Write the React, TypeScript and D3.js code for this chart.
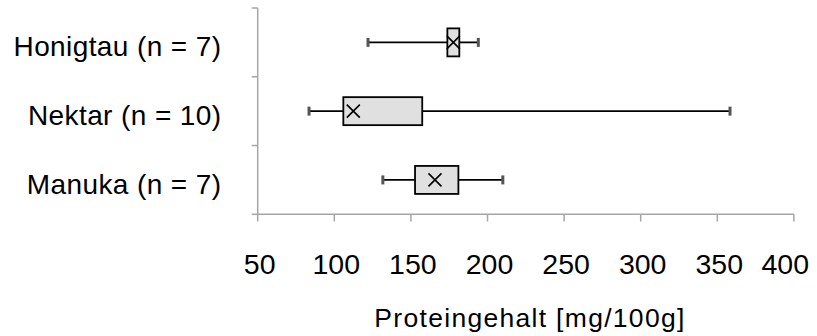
import React from "react";
import * as d3 from "d3";

const categories = ["Honigtau (n = 7)", "Nektar (n = 10)", "Manuka (n = 7)"];
const whiskerLow = [122, 83.5, 131.7];
const q1 = [173.8, 105.9, 152.7];
const q3 = [181.6, 157.4, 181];
const whiskerHigh = [194, 358.3, 210];
const means = [177.7, 112.4, 165.7];
const xTicks = [50, 100, 150, 200, 250, 300, 350, 400];
const xTitle = "Proteingehalt [mg/100g]";

const W = 817;
const H = 336;
const FONT = "'Liberation Sans', Arial, sans-serif";

export default function App() {
  const x = d3.scaleLinear().domain([50, 400]).range([257.7, 793.9]);
  const y = d3.scaleBand<string>().domain(categories).range([8, 214.3]).padding(0);
  const axisColor = "#a6a6a6";
  const boxH = 28;
  const xs = 6.5;

  const bandEdges = [8, ...categories.map((c) => (y(c) as number) + y.bandwidth())];
  const lastTick = xTicks[xTicks.length - 1];

  return (
    <svg
      width={W}
      height={H}
      style={{ position: "absolute", left: 0, top: 0, background: "#fff" }}
      fontFamily={FONT}
    >
      {/* y axis */}
      <line x1={x(50)} x2={x(50)} y1={8} y2={214.3} stroke={axisColor} strokeWidth={1.5} />
      {bandEdges.map((e, i) => (
        <line key={"yt" + i} x1={x(50) - 6} x2={x(50)} y1={e} y2={e} stroke={axisColor} strokeWidth={1.5} />
      ))}
      {/* x axis */}
      <line x1={x(50)} x2={x(400)} y1={214.3} y2={214.3} stroke={axisColor} strokeWidth={1.5} />
      {xTicks.map((t) => (
        <g key={"xt" + t}>
          <line x1={x(t)} x2={x(t)} y1={214.3} y2={221.5} stroke={axisColor} strokeWidth={1.5} />
          <text
            x={t === lastTick ? 809 : x(t) + 2}
            y={274}
            textAnchor={t === lastTick ? "end" : "middle"}
            fontSize={28.5}
            fill="#000"
          >
            {t}
          </text>
        </g>
      ))}
      <text x={530} y={326.5} textAnchor="middle" fontSize={26.5} fill="#000" letterSpacing={1.3}>
        {xTitle}
      </text>
      {/* category labels */}
      {categories.map((c) => {
        const cy = (y(c) as number) + y.bandwidth() / 2;
        return (
          <text key={"l" + c} x={221.5} y={cy + 14} textAnchor="end" fontSize={28} fill="#000" letterSpacing={0.4}>
            {c}
          </text>
        );
      })}
      {/* boxes */}
      {categories.map((c, i) => {
        const cy = (y(c) as number) + y.bandwidth() / 2;
        return (
          <g key={"b" + c}>
            <line x1={x(whiskerLow[i])} x2={x(q1[i])} y1={cy} y2={cy} stroke="#000" strokeWidth={1.8} />
            <line x1={x(q3[i])} x2={x(whiskerHigh[i])} y1={cy} y2={cy} stroke="#000" strokeWidth={1.8} />
            <rect x={x(whiskerLow[i]) - 1.5} y={cy - 4.5} width={3} height={9} fill="#555" />
            <rect x={x(whiskerHigh[i]) - 1.5} y={cy - 4.5} width={3} height={9} fill="#555" />
            <rect
              x={x(q1[i])}
              y={cy - boxH / 2}
              width={x(q3[i]) - x(q1[i])}
              height={boxH}
              fill="#e0e0e0"
              stroke="#000"
              strokeWidth={1.8}
            />
            <path
              d={`M${x(means[i]) - xs},${cy - xs}L${x(means[i]) + xs},${cy + xs}M${x(means[i]) - xs},${cy + xs}L${x(means[i]) + xs},${cy - xs}`}
              stroke="#000"
              strokeWidth={1.6}
              fill="none"
            />
          </g>
        );
      })}
    </svg>
  );
}
